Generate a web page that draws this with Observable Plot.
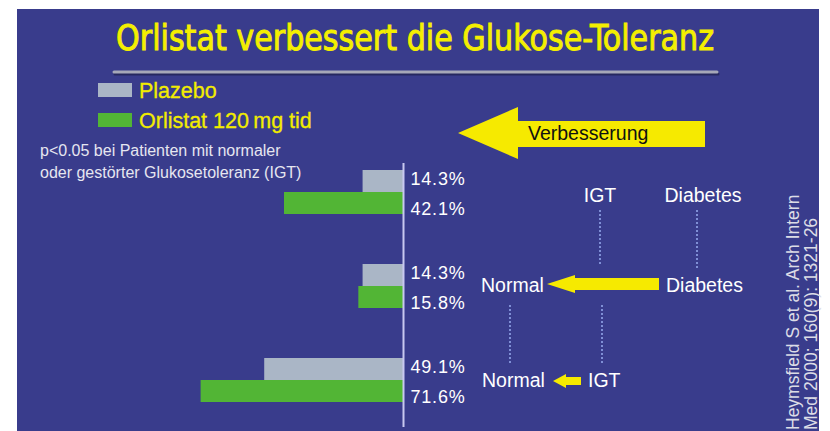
<!DOCTYPE html>
<html>
<head>
<meta charset="utf-8">
<script src="https://cdn.jsdelivr.net/npm/d3@7"></script>
<script src="https://cdn.jsdelivr.net/npm/@observablehq/plot@0.6"></script>
<style>
  html, body { margin: 0; padding: 0; background: #ffffff; }
  #wrap { position: relative; width: 830px; height: 431px; overflow: hidden; background: #ffffff; }
  #bg { position: absolute; left: 17px; top: 9px; width: 802px; height: 422px; background: #393c8c; }
  #chart, #deco { position: absolute; left: 0; top: 0; }
  #deco { pointer-events: none; }
</style>
</head>
<body>
<div id="wrap">
  <div id="bg"></div>
  <div id="chart"></div>
  <svg id="deco" width="830" height="431"></svg>
</div>
<script>
// ---- data ----
const groups = ["Diabetes → IGT", "Diabetes → Normal", "IGT → Normal"];
const seriesNames = ["Plazebo", "Orlistat 120\u2009mg tid"];
const plazeboValues = [14.3, 14.3, 49.1];
const orlistatValues = [42.1, 15.8, 71.6];
const seriesColors = ["#aab6c6", "#52b535"];

const title = "Orlistat verbessert die Glukose-Toleranz";
const noteLines = ["p<0.05 bei Patienten mit normaler", "oder gestörter Glukosetoleranz (IGT)"];
const citationLines = ["Heymsfield S et al. Arch Intern", "Med 2000; 160(9): 1321-26"];

const rows = groups.flatMap((g, i) => [
  {group: g, series: seriesNames[0], value: plazeboValues[i]},
  {group: g, series: seriesNames[1], value: orlistatValues[i]}
]);
const placeboRows = rows.filter(d => d.series === seriesNames[0]);
const orlistatRows = rows.filter(d => d.series === seriesNames[1]);
const fmt = d => d.value.toFixed(1) + "%";

const chart = Plot.plot({
  width: 830,
  height: 431,
  marginTop: 169,
  marginBottom: 29,
  marginLeft: 191,
  marginRight: 427,
  style: {background: "transparent", overflow: "visible", fontFamily: "'Liberation Sans', Arial, sans-serif"},
  x: {domain: [0, 75], reverse: true, axis: null},
  y: {domain: groups, paddingInner: 0.534, paddingOuter: 0, axis: null},
  marks: [
    Plot.barX(placeboRows, {x: "value", y: "group", fill: seriesColors[0], insetBottom: 22}),
    Plot.barX(orlistatRows, {x: "value", y: "group", fill: seriesColors[1], insetTop: 22}),
    Plot.ruleX([0], {stroke: "#c8c8f0", strokeWidth: 2, insetTop: -6, insetBottom: -25}),
    Plot.text(placeboRows, {x: 0, y: "group", text: fmt, dx: 7, dy: -13, textAnchor: "start", fill: "#ffffff", fontSize: 18}),
    Plot.text(orlistatRows, {x: 0, y: "group", text: fmt, dx: 7, dy: 17, textAnchor: "start", fill: "#ffffff", fontSize: 18})
  ]
});
chart.querySelectorAll("text").forEach(t => t.setAttribute("letter-spacing", "0.8"));
document.getElementById("chart").appendChild(chart);

// ---- decorations ----
const svg = d3.select("#deco");
const sans = "'Liberation Sans', Arial, Helvetica, sans-serif";
const narrow = "'Liberation Sans Narrow', 'DejaVu Sans Condensed', 'Liberation Sans', sans-serif";

// title
svg.append("text").attr("x", 116).attr("y", 50)
  .attr("font-family", narrow).attr("font-size", 36).attr("fill", "#f4ef00")
  .attr("stroke", "#f4ef00").attr("stroke-width", 0.9)
  .attr("textLength", 598).attr("lengthAdjust", "spacingAndGlyphs")
  .text(title);
svg.append("line").attr("x1", 115).attr("x2", 718).attr("y1", 74).attr("y2", 74)
  .attr("stroke", "#262860").attr("stroke-width", 3).attr("stroke-linecap", "round");
svg.append("line").attr("x1", 114).attr("x2", 717).attr("y1", 72).attr("y2", 72)
  .attr("stroke", "#a6a8b8").attr("stroke-width", 3).attr("stroke-linecap", "round");

// legend
const legY = [83, 113];
seriesNames.forEach((s, i) => {
  svg.append("rect").attr("x", 98).attr("y", legY[i]).attr("width", 34).attr("height", 14)
    .attr("fill", seriesColors[i]);
  svg.append("text").attr("x", 139).attr("y", legY[i] + 15)
    .attr("font-family", sans).attr("font-size", 21.5).attr("fill", "#f2ec00")
    .attr("stroke", "#f2ec00").attr("stroke-width", 0.3)
    .text(s);
});

// note
noteLines.forEach((l, i) => {
  svg.append("text").attr("x", 40).attr("y", 155.5 + i * 22)
    .attr("font-family", sans).attr("font-size", 16).attr("fill", "#e6e6f0")
    .text(l);
});

// big arrow "Verbesserung"
svg.append("polygon")
  .attr("points", "458,133 518,107 518,121 705,121 705,147 518,147 518,159")
  .attr("fill", "#f6ea00");
svg.append("text").attr("x", 528).attr("y", 140)
  .attr("font-family", sans).attr("font-size", 19.5).attr("fill", "#111111")
  .text("Verbesserung");

// transition diagram
const white = "#ffffff";
function label(x, y, txt, anchor) {
  svg.append("text").attr("x", x).attr("y", y).attr("text-anchor", anchor || "start")
    .attr("font-family", sans).attr("font-size", 19.5).attr("fill", white).text(txt);
}
function dotted(x, y1, y2) {
  svg.append("line").attr("x1", x).attr("x2", x).attr("y1", y1).attr("y2", y2)
    .attr("stroke", "#7f8fd6").attr("stroke-width", 2).attr("stroke-dasharray", "2,2");
}
function arrow(tip, back, end, cy, sh, hh) {
  svg.append("polygon")
    .attr("points", `${tip},${cy} ${back},${cy - hh} ${back},${cy - sh} ${end},${cy - sh} ${end},${cy + sh} ${back},${cy + sh} ${back},${cy + hh}`)
    .attr("fill", "#f6ea00");
}
label(600, 202, "IGT", "middle");
label(703, 202, "Diabetes", "middle");
dotted(600, 210, 265);
dotted(697, 210, 268);

label(481, 292, "Normal");
arrow(547, 575, 659, 284, 6, 9);
label(666, 292, "Diabetes");
dotted(510, 305, 363);
dotted(602, 305, 363);

label(482, 387, "Normal");
arrow(553, 566, 581, 381, 4, 7);
label(588, 387, "IGT");

// citation (rotated)
citationLines.forEach((l, i) => {
  const bx = 798.5 + i * 18;
  svg.append("text").attr("transform", `translate(${bx},430) rotate(-90)`)
    .attr("font-family", sans).attr("font-size", 17.5).attr("fill", "#dcdce6")
    .text(l);
});
</script>
</body>
</html>
